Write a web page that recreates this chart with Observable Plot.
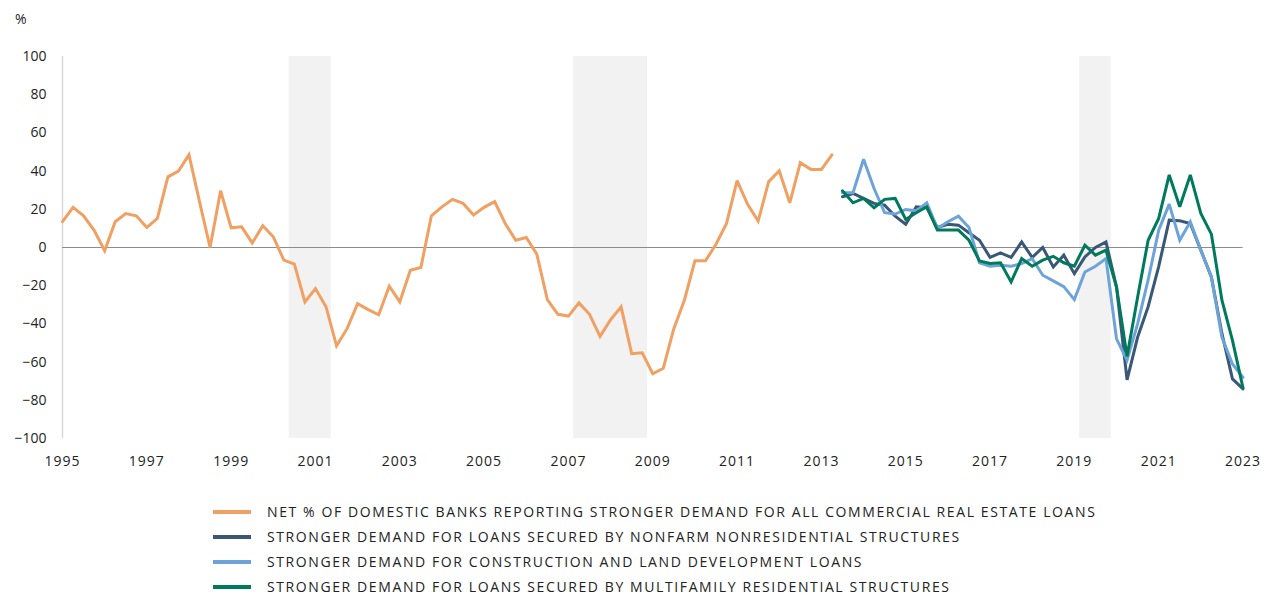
<!DOCTYPE html>
<html>
<head>
<meta charset="utf-8">
<script src="https://cdn.jsdelivr.net/npm/d3@7"></script>
<script src="https://cdn.jsdelivr.net/npm/@observablehq/plot@0.6"></script>
<style>
  html, body { margin: 0; padding: 0; background: #fff; }
  #wrap { position: relative; width: 1272px; height: 594px; font-family: "Open Sans", "Noto Sans", sans-serif; color: #222; }
  #unit { position: absolute; left: 15px; top: 9px; font-size: 14px; }
  #chart { position: absolute; left: 0; top: 0; }
  #chart g[aria-label="x-axis tick label"] text { letter-spacing: 1px; }
  #legend { position: absolute; left: 213px; top: 499.5px; font-size: 14px; letter-spacing: 1.6px; }
  .row { display: flex; align-items: center; height: 25.1px; }
  .row span { line-height: 1; white-space: nowrap; }
  .sw { width: 38px; height: 4px; margin-right: 16px; flex: none; }
</style>
</head>
<body>
<div id="wrap">
  <div id="chart"></div>
  <div id="unit">%</div>
  <div id="legend"></div>
</div>
<script>
// Quarter index t: 0 = 1995 (first quarter shown), 4 quarters per year
const startYear = 1995;
const yearTicks = [1995, 1997, 1999, 2001, 2003, 2005, 2007, 2009, 2011, 2013, 2015, 2017, 2019, 2021, 2023];
const yTicks = [-100, -80, -60, -40, -20, 0, 20, 40, 60, 80, 100];

// Net % all CRE loans (t = 0 .. 73)
const allCRE = [13.5, 21, 16.6, 9, -1.7, 13.5, 17.8, 16.6, 10.5, 15.2, 37, 40, 48.5, 24, 0, 29.7, 10.3, 10.8, 2.4, 11.4,
  5.6, -6.6, -8.7, -28.5, -21.5, -31, -51.5, -42.5, -29.4, -32.5, -35.2, -20.3, -28.5, -11.9, -10.5, 16.6, 21.3, 25.2, 23.1, 17,
  21, 24, 12.6, 3.8, 5.2, -3.5, -27.3, -35, -35.9, -29, -35, -46.5, -37.8, -31.1, -55.6, -55.1, -66.1, -63.2, -42.5, -27.6,
  -7, -7, 1.7, 12.6, 35, 22.6, 13.8, 34.5, 40.2, 23.4, 44.4, 40.9, 40.9, 48.5];
const allStart = 0;

// Sub-series (t = 74 .. 112)
const subStart = 74;
const nonfarm = [26.6, 28.3, 25.7, 23.1, 22.2, 16.4, 12.2, 21.3, 20.8, 10.5, 12.2, 11.7, 7.7, 3.8, -5.2, -2.8, -5.2, 2.9, -5.2, 0,
  -10.2, -4, -13.7, -4.9, 0, 2.9, -20.7, -69.3, -47, -31, -10, 14.3, 14, 12.6, -1.4, -15.4, -45, -68.8, -74];
const construction = [28.7, 28.7, 46.2, 30.9, 18.2, 17.5, 19.9, 19.2, 23.4, 10, 13.5, 16.4, 10.5, -8, -9.8, -9.3, -9.8, -8.4, -5.8, -14.5,
  -17.5, -20.5, -27.3, -12.8, -9.8, -5.8, -47.8, -59, -40, -17, 9, 22.7, 3.8, 13.5, -1.4, -15.4, -47, -61, -68];
const multifamily = [29.7, 23.4, 25.7, 20.8, 25.2, 25.7, 14.7, 18.2, 21.3, 9.1, 9.1, 9.1, 3.8, -7, -8.4, -8, -18, -5.8, -9.8, -6.6,
  -4.6, -8, -9.8, 1.2, -4, -1.4, -20.7, -57, -26, 3.8, 15.2, 38, 21.3, 38, 17.8, 7, -27.6, -48.6, -73.5];

// Shaded periods (in quarter index)
const bandStart = [21.5, 48.5, 96.5];
const bandEnd = [25.5, 55.5, 99.5];

const seriesNames = [
  "NET % OF DOMESTIC BANKS REPORTING STRONGER DEMAND FOR ALL COMMERCIAL REAL ESTATE LOANS",
  "STRONGER DEMAND FOR LOANS SECURED BY NONFARM NONRESIDENTIAL STRUCTURES",
  "STRONGER DEMAND FOR CONSTRUCTION AND LAND DEVELOPMENT LOANS",
  "STRONGER DEMAND FOR LOANS SECURED BY MULTIFAMILY RESIDENTIAL STRUCTURES"
];
const seriesColors = ["#F0A062", "#3A5778", "#6CA4DA", "#007A5C"];

const toRows = (vals, start) => vals.map((v, i) => ({t: start + i, v}));
const seriesData = [toRows(allCRE, allStart), toRows(nonfarm, subStart), toRows(construction, subStart), toRows(multifamily, subStart)];
const bands = bandStart.map((s, i) => ({s, e: bandEnd[i]}));
const xTicks = yearTicks.map(y => (y - startYear) * 4);

const chart = Plot.plot({
  width: 1272,
  height: 478,
  marginLeft: 62,
  marginRight: 29.5,
  marginTop: 56,
  marginBottom: 40,
  style: {fontFamily: "'Open Sans', 'Noto Sans', sans-serif", fontSize: "14px", color: "#222", background: "transparent"},
  x: {domain: [0, 112]},
  y: {domain: [-100, 100]},
  marks: [
    Plot.rect(bands, {x1: "s", x2: "e", y1: () => -100, y2: () => 100, fill: "#f2f2f2"}),
    Plot.ruleX([0], {y1: -100, y2: 100, stroke: "#d9d9d9", strokeWidth: 1.5}),
    Plot.ruleY([0], {stroke: "#8c8c8c", strokeWidth: 1.2}),
    ...seriesData.map((d, i) => Plot.line(d, {x: "t", y: "v", stroke: seriesColors[i], strokeWidth: 3, strokeLinejoin: "miter", strokeMiterlimit: 3})),
    Plot.axisX({ticks: xTicks, tickFormat: t => String(startYear + t / 4), tickSize: 0, tickPadding: 18, label: null, fontSize: 14}),
    Plot.axisY({ticks: yTicks, tickSize: 0, tickPadding: 16, label: null, fontSize: 14})
  ]
});
document.getElementById("chart").appendChild(chart);

const legend = document.getElementById("legend");
seriesNames.forEach((name, i) => {
  const row = document.createElement("div");
  row.className = "row";
  const sw = document.createElement("div");
  sw.className = "sw";
  sw.style.background = seriesColors[i];
  const tx = document.createElement("span");
  tx.textContent = name;
  row.appendChild(sw);
  row.appendChild(tx);
  legend.appendChild(row);
});
</script>
</body>
</html>
